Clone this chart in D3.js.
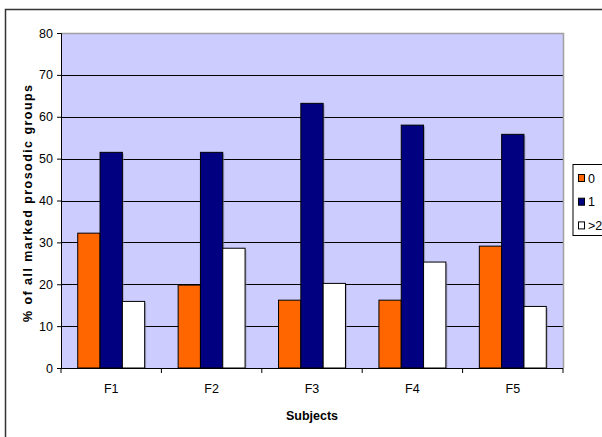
<!DOCTYPE html>
<html>
<head>
<meta charset="utf-8">
<script src="https://cdn.jsdelivr.net/npm/d3@7"></script>
<style>
  html, body { margin: 0; padding: 0; background: #fff; }
  svg { display: block; font-family: "Liberation Sans", Arial, sans-serif; }
</style>
</head>
<body>
<svg id="chart" width="602" height="437"></svg>
<script>
// Share of marked prosodic groups per subject, split by count
const subjects = ["F1", "F2", "F3", "F4", "F5"];
const seriesNames = ["0", "1", ">2"];
const values0 = [32.2, 19.8, 16.2, 16.2, 29.1];
const values1 = [51.5, 51.5, 63.2, 58.0, 55.8];
const values2 = [15.9, 28.6, 20.2, 25.3, 14.7];
const yTicks = [0, 10, 20, 30, 40, 50, 60, 70, 80];
const seriesColors = ["#FF6600", "#000080", "#FFFFFF"];

const seriesValues = [values0, values1, values2];
const FONT = "'Liberation Sans', Arial, sans-serif";

const svg = d3.select("#chart");
const plot = { left: 61, right: 563, top: 33, bottom: 368 };

// outer chart frame
svg.append("rect")
  .attr("x", 5.5).attr("y", 9.5)
  .attr("width", 700).attr("height", 500)
  .attr("fill", "#fff").attr("stroke", "#333").attr("stroke-width", 1.5);

const x = d3.scaleBand().domain(subjects).range([plot.left, plot.right]).padding(0);
const xs = d3.scaleBand().domain(seriesNames).range([0, x.bandwidth()])
  .paddingInner(0).paddingOuter(0.75);
const y = d3.scaleLinear().domain([0, 80]).range([plot.bottom, plot.top]);

// plot background
svg.append("rect")
  .attr("x", plot.left).attr("y", plot.top)
  .attr("width", plot.right - plot.left).attr("height", plot.bottom - plot.top)
  .attr("fill", "#CCCCFF");

// gridlines
svg.append("g").selectAll("line")
  .data(yTicks.filter(d => d > 0))
  .join("line")
  .attr("x1", plot.left).attr("x2", plot.right)
  .attr("y1", d => Math.round(y(d)) + 0.5).attr("y2", d => Math.round(y(d)) + 0.5)
  .attr("stroke", "#000").attr("stroke-width", 1.2);

// plot border (top/right grey)
svg.append("path")
  .attr("d", `M${plot.left},${plot.top + 0.5}H${plot.right + 0.5}V${plot.bottom}`)
  .attr("fill", "none").attr("stroke", "#a0a0a0").attr("stroke-width", 1.5);

// bars
const rows = subjects.map((s, i) => ({ s, vals: seriesNames.map((n, k) => ({ n, k, v: seriesValues[k][i] })) }));
const groups = svg.append("g").selectAll("g")
  .data(rows).join("g")
  .attr("transform", d => `translate(${x(d.s)},0)`);

groups.selectAll("rect.shadow")
  .data(d => d.vals).join("rect")
  .attr("class", "shadow")
  .attr("x", d => xs(d.n) + 1.5).attr("y", d => y(d.v) + 1.5)
  .attr("width", xs.bandwidth()).attr("height", d => y(0) - y(d.v) - 1.5)
  .attr("fill", "#8a8aa8").attr("opacity", 0.6);

groups.selectAll("rect.bar")
  .data(d => d.vals).join("rect")
  .attr("class", "bar")
  .attr("x", d => xs(d.n)).attr("y", d => y(d.v))
  .attr("width", xs.bandwidth()).attr("height", d => y(0) - y(d.v))
  .attr("fill", d => seriesColors[d.k])
  .attr("stroke", "#000").attr("stroke-width", 1);

// y axis
const yAxis = svg.append("g")
  .attr("transform", `translate(${plot.left},0)`)
  .call(d3.axisLeft(y).tickValues(yTicks).tickSize(4).tickPadding(4).tickFormat(d3.format("d")));
yAxis.select(".domain").attr("stroke", "#000");
yAxis.selectAll("text").attr("font-size", 12.5).attr("fill", "#000")
  .style("font-family", FONT);

// x axis
const xAxis = svg.append("g")
  .attr("transform", `translate(0,${plot.bottom})`)
  .call(d3.axisBottom(x).tickSize(0).tickPadding(16));
xAxis.select(".domain").attr("stroke", "#000").attr("d", `M${plot.left},0.5H${plot.right}`);
xAxis.selectAll("text").attr("font-size", 12.5).attr("fill", "#000")
  .style("font-family", FONT);
// category boundary ticks
xAxis.append("g").selectAll("line")
  .data(d3.range(subjects.length + 1))
  .join("line")
  .attr("x1", i => plot.left + i * x.step()).attr("x2", i => plot.left + i * x.step())
  .attr("y1", 0).attr("y2", 5)
  .attr("stroke", "#000");

// axis titles
svg.append("text")
  .attr("x", (plot.left + plot.right) / 2).attr("y", 420)
  .attr("text-anchor", "middle")
  .attr("font-size", 12.5).attr("font-weight", "bold")
  .style("font-family", FONT)
  .text("Subjects");

svg.append("text")
  .attr("transform", `translate(32,${(plot.top + plot.bottom) / 2 + 3}) rotate(-90)`)
  .attr("text-anchor", "middle")
  .attr("font-size", 12.5).attr("font-weight", "bold")
  .style("font-family", FONT)
  .attr("textLength", 237).attr("lengthAdjust", "spacing")
  .text("% of all marked prosodic groups");

// legend
const legend = svg.append("g");
legend.append("rect")
  .attr("x", 573).attr("y", 164.5).attr("width", 60).attr("height", 71)
  .attr("fill", "#fff").attr("stroke", "#000").attr("stroke-width", 1);
const items = legend.selectAll("g.item")
  .data(seriesNames).join("g")
  .attr("class", "item")
  .attr("transform", (d, i) => `translate(578,${178 + i * 23.7})`);
items.append("rect")
  .attr("x", 0.5).attr("y", -3.5).attr("width", 6).attr("height", 7)
  .attr("fill", (d, i) => seriesColors[i]).attr("stroke", "#000").attr("stroke-width", 1);
items.append("text")
  .attr("x", 10).attr("y", 4.5)
  .attr("font-size", 12.5)
  .style("font-family", FONT)
  .text(d => d);
</script>
</body>
</html>
